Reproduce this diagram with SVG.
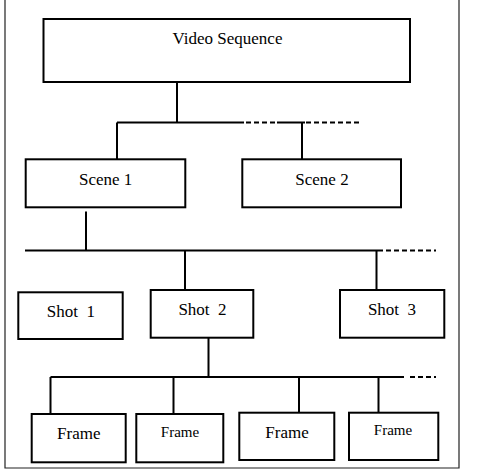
<svg xmlns="http://www.w3.org/2000/svg" width="479" height="472" viewBox="0 0 479 472">
<style>
.box{fill:#fff;stroke:#000;stroke-width:2}
.t{font-family:"Liberation Serif","Times New Roman",serif;font-size:17px;fill:#000;text-anchor:middle}
.s{font-size:15px}
.c{stroke:#000;stroke-width:2;fill:none}
.d{stroke:#000;stroke-width:1.8;fill:none;stroke-dasharray:5 3}
</style>
<rect x="0" y="0" width="479" height="472" fill="#fff"/>
<path d="M5,-2 V468 H459 V-2" fill="none" stroke="#222" stroke-width="1.2"/>
<g id="connectors">
<path class="c" d="M177,82 V122.5 M117,122.5 H244 M117,122.5 V159 M277,122.5 H305 M302,122.5 V160"/>
<path class="d" d="M246,122.5 H276 M306,122.5 H362"/>
<path class="c" d="M86,211.5 V250.5 M25,250.5 H383 M185,250.5 V290 M376.5,250.5 V290"/>
<path class="d" d="M386,250.5 H436"/>
<path class="c" d="M208.5,337.5 V377 M50.5,377 H404 M50.5,377 V414 M173.5,377 V417 M299,377 V413 M378.5,377 V417"/>
<path class="d" d="M410,377 H436"/>
</g>
<g id="video-sequence"><rect class="box" x="43.5" y="19" width="366.5" height="63"/><text class="t" x="227.5" y="44">Video Sequence</text></g>
<g id="scene-1"><rect class="box" x="25.7" y="159.3" width="159.6" height="48"/><text class="t" x="105.7" y="185">Scene 1</text></g>
<g id="scene-2"><rect class="box" x="242.3" y="159.3" width="158.7" height="48"/><text class="t" x="322" y="185">Scene 2</text></g>
<g id="shot-1"><rect class="box" x="18.3" y="292.3" width="104.4" height="46.7"/><text class="t" x="70.8" y="317.3" xml:space="preserve">Shot  1</text></g>
<g id="shot-2"><rect class="box" x="150.7" y="290" width="102.6" height="47.7"/><text class="t" x="202.5" y="315.3" xml:space="preserve">Shot  2</text></g>
<g id="shot-3"><rect class="box" x="340" y="290" width="104.3" height="47.7"/><text class="t" x="392" y="315.3" xml:space="preserve">Shot  3</text></g>
<g id="frame-1"><rect class="box" x="31.7" y="414" width="94" height="48.3"/><text class="t" x="78.8" y="439">Frame</text></g>
<g id="frame-2"><rect class="box" x="136.3" y="414" width="87" height="48.3"/><text class="t s" x="180" y="437">Frame</text></g>
<g id="frame-3"><rect class="box" x="239.3" y="412.7" width="95" height="47.3"/><text class="t" x="287" y="437.7">Frame</text></g>
<g id="frame-4"><rect class="box" x="349" y="412.7" width="89.3" height="47.3"/><text class="t s" x="393" y="435">Frame</text></g>
</svg>
